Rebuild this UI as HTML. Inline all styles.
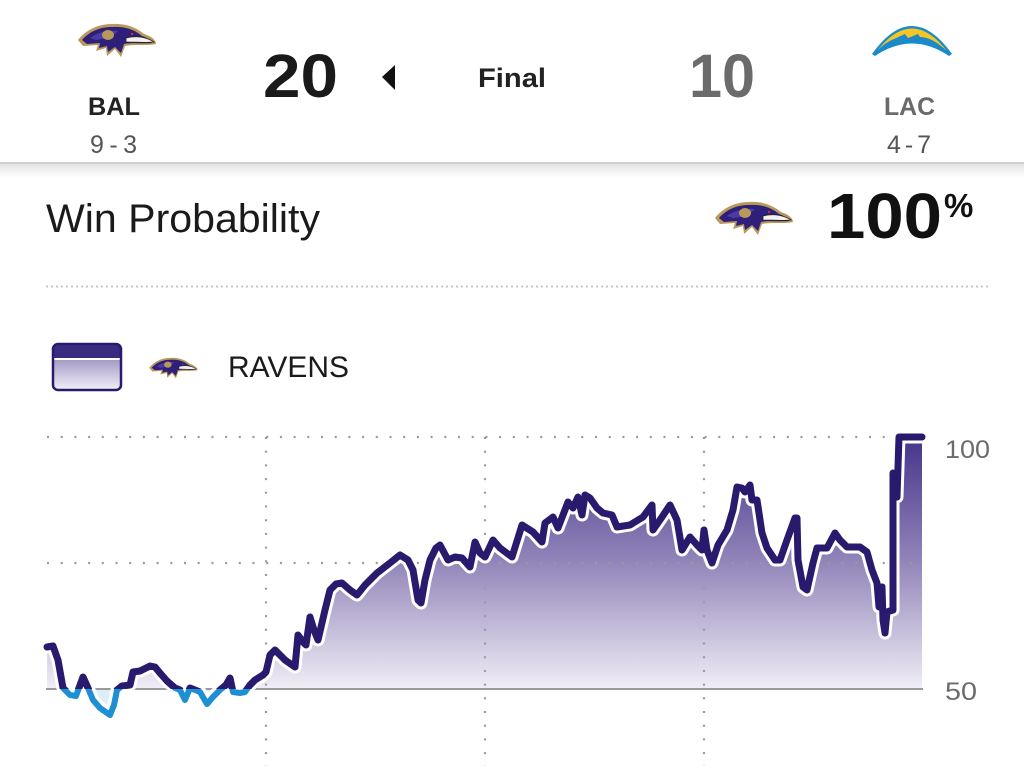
<!DOCTYPE html>
<html><head><meta charset="utf-8"><style>
html,body{margin:0;padding:0;background:#fff;width:1024px;height:766px;overflow:hidden}
svg{display:block}
text{font-family:"Liberation Sans",sans-serif}
</style></head><body>
<svg width="1024" height="766" viewBox="0 0 1024 766" xmlns="http://www.w3.org/2000/svg">
<defs>
<linearGradient id="shadow" x1="0" y1="0" x2="0" y2="1">
<stop offset="0" stop-color="#e4e4e4"/><stop offset="1" stop-color="#ffffff"/></linearGradient>
<linearGradient id="fillg" gradientUnits="userSpaceOnUse" x1="0" y1="437" x2="0" y2="689">
<stop offset="0" stop-color="#45348a"/><stop offset="0.5" stop-color="#9386ba"/><stop offset="1" stop-color="#f0eef6"/></linearGradient>
<linearGradient id="legg" x1="0" y1="0" x2="0" y2="1">
<stop offset="0" stop-color="#7b6dab"/><stop offset="1" stop-color="#f3f1f8"/></linearGradient>
<clipPath id="above"><rect x="0" y="0" width="1024" height="689"/></clipPath>
<clipPath id="below"><rect x="0" y="689" width="1024" height="100"/></clipPath>
<polyline id="ln" points="47,647 53,646 58,660 63,688 70,695 76,696 83,677 88,688 93,700 100,708 110,715 114,705 117,690 122,686 130,685 133,672 140,671 150,666 155,667 160,673 167,681 175,688 180,690 185,700 190,688 195,690 200,692 207,704 213,697 220,690 226,685 230,678 233,692 240,693 245,692 250,685 255,680 263,675 266,672 270,655 275,650 285,660 295,667 298,635 303,642 306,645 310,617 314,630 318,640 325,610 330,590 336,584 342,583 350,590 357,595 365,585 377,573 390,563 400,555 408,560 413,570 418,600 421,603 425,580 430,560 436,548 440,545 448,560 455,557 462,558 470,567 475,542 480,553 485,557 493,540 500,548 512,557 522,525 533,532 542,542 545,523 553,517 558,528 568,502 573,508 578,497 582,515 585,495 590,498 597,508 603,513 612,515 617,527 630,525 643,517 652,505 653,530 662,517 670,505 677,520 682,550 690,537 697,545 702,550 704,530 707,550 712,563 718,545 727,530 733,510 737,487 742,488 745,492 750,485 752,500 757,500 762,533 767,548 775,560 780,560 787,540 795,518 797,518 798,560 803,587 807,590 813,563 817,548 827,548 835,533 840,540 847,547 860,547 867,552 872,570 877,583 879,607 882,587 883,620 885,633 887,612 893,610 893,473 897,497 899,437 922,437"/>
<g id="raven">
<path d="M2,19 C10,9 22,3 36,3 C50,2 61,7 68,13 C75,15 80,19 80,23 C70,25 58,23 49,25 L45,36 L39,28 L31,35 L30,27 L20,30 L22,24 L7,25 Z" fill="#b8995a"/>
<path d="M6,19 C13,11 23,6 36,6 C49,5 59,9 66,15 C72,17 76,20 76,22 C67,23 57,21 48,23 L45,32 L39,26 L32,31 L31,25 L23,27 L24,22 L11,23 Z" fill="#2d1f7a"/>
<path d="M14,17 C22,11 32,9 42,10 C38,15 30,18 20,19 Z" fill="#4c3aa6"/>
<ellipse cx="32" cy="14" rx="6" ry="5" fill="#b8995a"/>
<path d="M50,17 C62,14 72,17 78,21 C68,22 58,21 50,21 Z" fill="#f2f2f2" stroke="#222" stroke-width="0.8"/>
<circle cx="56" cy="13" r="1.2" fill="#c33"/>
</g>
</defs>

<!-- header -->
<rect x="0" y="162" width="1024" height="2" fill="#cfcfcf"/>
<rect x="0" y="164" width="1024" height="14" fill="url(#shadow)"/>

<use href="#raven" transform="translate(76,21)"/>
<text x="88" y="115" font-size="25" font-weight="bold" fill="#222" textLength="52" lengthAdjust="spacingAndGlyphs">BAL</text>
<text x="90" y="153" font-size="25" fill="#555" textLength="47" lengthAdjust="spacing">9-3</text>
<text x="263" y="97" font-size="61" font-weight="bold" fill="#1a1a1a" textLength="75" lengthAdjust="spacingAndGlyphs">20</text>
<path d="M382,77 L395,65 L395,90 Z" fill="#111"/>
<text x="478" y="87" font-size="27" font-weight="bold" fill="#222" textLength="68" lengthAdjust="spacingAndGlyphs">Final</text>
<text x="689" y="97" font-size="61" font-weight="bold" fill="#6b6b6b" textLength="66" lengthAdjust="spacingAndGlyphs">10</text>

<!-- chargers bolt -->
<g transform="translate(872,23)">
<path d="M0,31 Q40,-25 80,31 L77,33 Q40,8 3,33 Z" fill="#1b8acb"/>
<path d="M5,28 Q40,-17 75,28 Q60,14 48,14 L46,11 L36,15 L33,11 L22,16 Q12,20 5,28 Z" fill="#f6c526"/>
</g>
<text x="884" y="115" font-size="25" font-weight="bold" fill="#6a6a6a" textLength="51" lengthAdjust="spacingAndGlyphs">LAC</text>
<text x="887" y="153" font-size="25" fill="#555" textLength="44" lengthAdjust="spacing">4-7</text>

<!-- win probability -->
<text x="46" y="232" font-size="40" fill="#1a1a1a" textLength="274" lengthAdjust="spacingAndGlyphs">Win Probability</text>
<use href="#raven" transform="translate(713,199)"/>
<text x="827" y="238" font-size="64" font-weight="bold" fill="#111" textLength="115" lengthAdjust="spacingAndGlyphs">100</text>
<text x="944" y="217" font-size="33" font-weight="bold" fill="#111">%</text>
<line x1="46" y1="286.5" x2="990" y2="286.5" stroke="#c8c8c8" stroke-width="2" stroke-dasharray="2 3"/>

<!-- legend -->
<rect x="53" y="344" width="68" height="46" rx="5" fill="url(#legg)"/>
<path d="M53,358 V349 a5,5 0 0 1 5,-5 H116 a5,5 0 0 1 5,5 V358 Z" fill="#3b2b80"/>
<rect x="53" y="358" width="68" height="2" fill="#fff"/>
<rect x="53" y="344" width="68" height="46" rx="5" fill="none" stroke="#2a1a6e" stroke-width="2.5"/>
<use href="#raven" transform="translate(148,356) scale(0.62)"/>
<text x="228" y="377" font-size="30" fill="#1a1a1a" textLength="121" lengthAdjust="spacingAndGlyphs">RAVENS</text>

<!-- chart -->
<g>
<polygon clip-path="url(#above)" fill="url(#fillg)" points="47,689 47,647 53,646 58,660 63,688 70,695 76,696 83,677 88,688 93,700 100,708 110,715 114,705 117,690 122,686 130,685 133,672 140,671 150,666 155,667 160,673 167,681 175,688 180,690 185,700 190,688 195,690 200,692 207,704 213,697 220,690 226,685 230,678 233,692 240,693 245,692 250,685 255,680 263,675 266,672 270,655 275,650 285,660 295,667 298,635 303,642 306,645 310,617 314,630 318,640 325,610 330,590 336,584 342,583 350,590 357,595 365,585 377,573 390,563 400,555 408,560 413,570 418,600 421,603 425,580 430,560 436,548 440,545 448,560 455,557 462,558 470,567 475,542 480,553 485,557 493,540 500,548 512,557 522,525 533,532 542,542 545,523 553,517 558,528 568,502 573,508 578,497 582,515 585,495 590,498 597,508 603,513 612,515 617,527 630,525 643,517 652,505 653,530 662,517 670,505 677,520 682,550 690,537 697,545 702,550 704,530 707,550 712,563 718,545 727,530 733,510 737,487 742,488 745,492 750,485 752,500 757,500 762,533 767,548 775,560 780,560 787,540 795,518 797,518 798,560 803,587 807,590 813,563 817,548 827,548 835,533 840,540 847,547 860,547 867,552 872,570 877,583 879,607 882,587 883,620 885,633 887,612 893,610 893,473 897,497 899,437 922,437 922,689"/>
<polygon clip-path="url(#below)" fill="#dceff8" points="47,689 63,688 70,695 76,696 83,689 88,688 93,700 100,708 110,715 114,705 117,689 180,689 185,700 190,689 200,692 207,704 213,697 220,689 233,692 240,693 245,692 250,689"/>

<!-- grid -->
<g stroke="#9a9a9a" stroke-width="2.2" stroke-dasharray="2 11.7">
<line x1="47" y1="437" x2="922" y2="437"/>
<line x1="47" y1="563" x2="922" y2="563"/>
<line x1="266" y1="437" x2="266" y2="766"/>
<line x1="485" y1="437" x2="485" y2="766"/>
<line x1="704" y1="437" x2="704" y2="766"/>
</g>
<line x1="46" y1="689" x2="923" y2="689" stroke="#9a9a9a" stroke-width="2"/>

<g fill="none" stroke-linejoin="round" stroke-linecap="round">
<use href="#ln" stroke="#ffffff" stroke-width="13"/>
<use href="#ln" clip-path="url(#above)" stroke="#2a1a6e" stroke-width="7"/>
<use href="#ln" clip-path="url(#below)" stroke="#1e8fd2" stroke-width="6"/>
</g>
</g>

<text x="945" y="458" font-size="25" fill="#6b6b6b" textLength="45" lengthAdjust="spacingAndGlyphs">100</text>
<text x="945" y="700" font-size="25" fill="#6b6b6b" textLength="32" lengthAdjust="spacingAndGlyphs">50</text>
</svg>
</body></html>
